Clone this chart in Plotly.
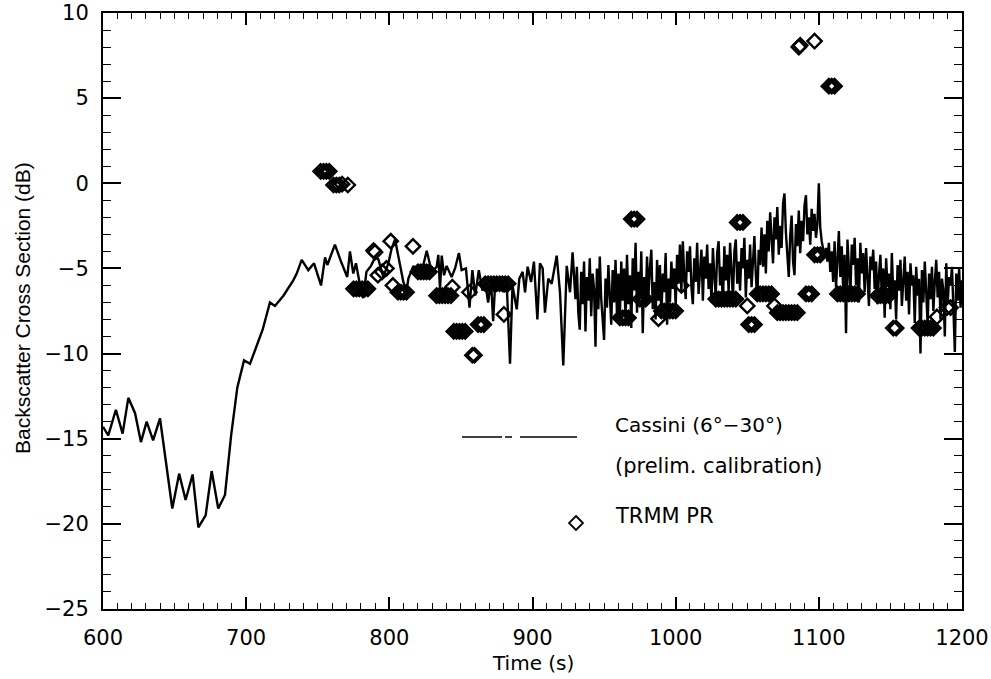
import numpy as np
import plotly.graph_objects as go

# ---------------- Cassini backscatter (sparse early part) ----------------
cassini_t_early = [600, 603.7, 609, 613.7, 617.7, 622.4, 626.5, 630.5, 635, 639.8,
                   648.4, 653.2, 657.7, 662.6, 666.6, 671.7, 675.9, 680.5, 685.2, 689.5,
                   693.8, 698.5, 702.7, 707.3, 711.5, 716.6, 720.1, 726, 732.9, 735.3,
                   738.8, 743.4, 747.4, 752.3, 755.1, 756.7, 762, 766.7, 770.6, 772.5,
                   774.8, 776.7, 779.1, 781.8, 784, 787.2, 790, 792.3, 795.8, 799.3,
                   801.7, 804, 806.3, 809.8, 812.1, 813.3, 816.8, 821.5, 826.1, 829.6,
                   833.1, 834.2, 835.4, 836.6, 838.2, 840, 843.5, 845.9, 848.6, 850.5,
                   853.5, 856, 858, 860, 862.5, 865, 867, 869, 871, 872.5,
                   874, 876, 878, 880, 882, 884.3, 886, 889, 890.8, 893.1,
                   894.8, 896.6, 899, 901, 903.4, 905.2, 907.1, 908.7, 911, 913.4,
                   916.9, 919.2, 921.5, 923.9, 926.2, 928]
cassini_v_early = [-14.3, -14.8, -13.3, -14.7, -12.6, -13.5, -15.2, -14.0, -15.1, -13.8,
                   -19.1, -17.05, -18.6, -17.1, -20.2, -19.5, -16.9, -19.1, -18.3, -14.8,
                   -12.0, -10.4, -10.6, -9.6, -8.6, -7.0, -7.2, -6.6, -5.7, -5.3,
                   -4.5, -5.1, -4.7, -6.0, -4.35, -4.8, -3.6, -4.7, -5.5, -4.0,
                   -5.3, -4.7, -5.8, -6.75, -5.2, -4.85, -4.35, -4.45, -5.5, -4.7,
                   -3.8, -3.3, -4.25, -5.8, -6.3, -5.6, -4.85, -5.6, -3.96, -5.2,
                   -4.9, -4.2, -6.2, -4.25, -5.4, -4.85, -5.5, -5.0, -4.1, -5.1,
                   -5.0, -7.3, -5.1, -6.6, -5.1, -6.3, -5.8, -7.0, -5.7, -8.1,
                   -5.8, -6.2, -5.6, -6.4, -5.9, -10.6, -6.0, -7.4, -5.6, -5.2,
                   -6.4, -4.9, -5.8, -4.6, -8.0, -4.7, -5.0, -7.6, -5.6, -5.9,
                   -4.25, -6.4, -10.7, -4.85, -6.4, -4.05]

# ---------------- Cassini backscatter (dense part, 1 s sampling from 930 s) ----------------
cassini_dense_start = 930
cassini_dense_step = 1.0
cassini_v_930_959 = [-6.8, -4.9, -7.6, -8.6, -5.2, -7.1, -4.6, -8.7, -5.5, -6.9,
                     -4.4, -7.8, -5.3, -6.2, -9.6, -5.0, -7.4, -4.3, -6.8, -8.1,
                     -9.2, -5.6, -7.3, -4.8, -6.5, -8.3, -5.1, -7.0, -4.5, -7.7]
cassini_v_960_999 = [-5.3, -8.0, -4.6, -6.9, -5.0, -8.2, -4.2, -7.1, -5.4, -8.5,
                     -4.4, -6.3, -3.5, -7.6, -5.2, -6.8, -4.0, -8.8, -5.5, -7.2,
                     -4.3, -6.6, -5.0, -3.9, -7.4, -5.8, -8.0, -4.5, -6.9, -4.8,
                     -7.9, -5.3, -6.4, -4.1, -8.3, -5.6, -7.0, -4.6, -6.2, -5.0]
cassini_v_1000_1059 = [-7.2, -4.2, -5.9, -3.6, -6.4, -3.4, -5.5, -6.8, -4.0, -5.2,
                       -3.7, -6.1, -7.1, -4.4, -5.8, -3.5, -6.5, -4.8, -3.9, -6.9,
                       -4.3, -5.6, -3.6, -6.2, -4.7, -7.0, -3.8, -5.4, -6.6, -4.1,
                       -3.4, -6.0, -4.9, -7.2, -3.7, -5.7, -4.2, -6.4, -3.5, -5.1,
                       -6.8, -4.0, -3.3, -5.9, -4.6, -6.3, -3.8, -5.0, -3.2, -6.7,
                       -4.5, -5.6, -3.6, -6.1, -4.3, -3.1, -5.4, -6.9, -3.9, -4.8]
cassini_v_1060_1102 = [-2.6, -4.9, -3.0, -5.3, -2.2, -4.0, -1.7, -3.6, -4.7, -2.0,
                       -3.3, -1.4, -4.2, -2.5, -3.8, -1.2, -0.6, -2.9, -4.4, -5.5,
                       -3.1, -1.9, -4.6, -5.4, -2.4, -3.7, -1.6, -4.1, -2.2, -3.4,
                       -1.3, -0.7, -3.0, -2.0, -3.6, -1.5, -2.8, -1.8, -3.2, -2.4,
                       0.0, -2.6, -3.4]
cassini_v_1103_1139 = [-3.9, -4.3, -3.8, -4.6, -3.5, -5.2, -4.0, -5.8, -3.4, -6.1,
                       -4.5, -2.8, -5.5, -3.7, -6.3, -4.2, -8.8, -3.3, -5.0, -6.6,
                       -3.6, -4.8, -3.2, -6.0, -4.4, -7.0, -3.5, -5.3, -4.1, -6.4,
                       -3.8, -5.7, -7.2, -4.3, -5.1, -3.9, -6.2]
cassini_v_1140_1200 = [-4.6, -7.1, -5.4, -4.2, -6.8, -5.0, -7.9, -4.4, -6.1, -5.3,
                       -7.4, -4.1, -6.5, -5.7, -8.0, -4.8, -6.3, -4.5, -7.2, -5.9,
                       -4.3, -6.9, -5.2, -7.7, -4.7, -6.0, -5.4, -8.2, -4.9, -6.6,
                       -5.6, -10.0, -5.1, -7.0, -4.6, -6.4, -8.3, -5.3, -6.8, -4.9,
                       -7.5, -5.8, -4.5, -6.7, -5.2, -8.0, -5.6, -6.3, -9.0, -4.7,
                       -7.1, -5.5, -6.0, -4.9, -7.6, -9.9, -5.3, -6.9, -5.0, -7.3, -5.7]

# ---------------- TRMM PR ----------------
trmm_t = [752, 754, 756, 758,
          761, 763, 765, 767, 771,
          775, 777, 779, 781, 783, 785,
          789, 790, 801, 816.5,
          792, 795, 798, 802.5,
          806, 808, 810, 812,
          820, 822, 824, 826, 828,
          833, 835, 837, 839, 841, 843, 844, 856,
          845, 847, 849, 851, 853,
          858, 859.5, 862, 864, 866,
          867, 869, 871, 873, 875, 877, 879, 881, 883,
          880,
          969, 971, 973,
          961, 963, 965, 967,
          975, 977, 979, 988,
          990, 992, 994, 996, 998, 1000, 1004,
          1043, 1045, 1047,
          1028, 1030, 1032, 1034, 1036, 1038, 1040, 1042,
          1050, 1051, 1053, 1055,
          1057, 1059, 1061, 1063, 1065, 1067, 1069,
          1071, 1073, 1075, 1077, 1079, 1081, 1083, 1085,
          1091, 1093, 1095,
          1097, 1099, 1101,
          1113, 1115, 1117, 1119, 1121, 1123, 1125, 1127,
          1141, 1143, 1145, 1147, 1149,
          1152, 1154,
          1170, 1172, 1174, 1176, 1178, 1180, 1182.5, 1189.5, 1192,
          1086, 1087, 1097, 1107, 1109, 1111]
trmm_v = [0.7, 0.7, 0.7, 0.7,
          -0.1, -0.1, -0.1, -0.05, -0.1,
          -6.2, -6.2, -6.2, -6.2, -6.2, -6.2,
          -3.95, -4.05, -3.4, -3.7,
          -5.4, -5.2, -5.0, -6.0,
          -6.4, -6.4, -6.4, -6.4,
          -5.2, -5.2, -5.2, -5.2, -5.2,
          -6.6, -6.6, -6.6, -6.6, -6.6, -6.6, -6.1, -6.4,
          -8.7, -8.7, -8.7, -8.7, -8.7,
          -10.1, -10.1, -8.3, -8.3, -8.3,
          -5.9, -5.9, -5.9, -5.9, -5.9, -5.9, -5.9, -5.9, -5.9,
          -7.7,
          -2.1, -2.1, -2.1,
          -7.9, -7.9, -7.9, -7.9,
          -6.8, -6.8, -6.8, -7.95,
          -7.5, -7.5, -7.5, -7.5, -7.5, -7.5, -6.0,
          -2.3, -2.3, -2.3,
          -6.8, -6.8, -6.8, -6.8, -6.8, -6.8, -6.8, -6.8,
          -7.2, -8.3, -8.3, -8.3,
          -6.5, -6.5, -6.5, -6.5, -6.5, -6.5, -7.2,
          -7.6, -7.6, -7.6, -7.6, -7.6, -7.6, -7.6, -7.6,
          -6.5, -6.5, -6.5,
          -4.2, -4.2, -4.2,
          -6.5, -6.5, -6.5, -6.5, -6.5, -6.5, -6.5, -6.5,
          -6.6, -6.6, -6.6, -6.6, -6.6,
          -8.5, -8.5,
          -8.5, -8.5, -8.5, -8.5, -8.5, -8.5, -7.85, -7.3, -7.3,
          8.0, 8.1, 8.35, 5.7, 5.7, 5.7]

# axis ticks
x_range = [600, 1200]
y_range = [-25, 10]
x_dtick, x_minor = 100, 10
y_dtick, y_minor = 5, 1

legend_line_label = "Cassini (6°−30°)"
legend_line_label2 = "(prelim. calibration)"
legend_marker_label = "TRMM PR"

# ---------------- build ----------------
dense_v = (cassini_v_930_959 + cassini_v_960_999 + cassini_v_1000_1059 +
           cassini_v_1060_1102 + cassini_v_1103_1139 + cassini_v_1140_1200)
dense_t = list(cassini_dense_start + cassini_dense_step * np.arange(len(dense_v)))
cass_t = cassini_t_early + dense_t
cass_v = cassini_v_early + dense_v

FONT = "DejaVu Sans"
TFONT = "Liberation Sans"
fig = go.Figure()
fig.add_trace(go.Scatter(x=cass_t, y=cass_v, mode="lines",
                         line=dict(color="black", width=2.4), showlegend=False))
fig.add_trace(go.Scatter(x=trmm_t, y=trmm_v, mode="markers",
                         marker=dict(symbol="diamond-open", size=11, color="black",
                                     line=dict(width=2.4, color="black")),
                         showlegend=False))

axis_common = dict(showline=True, linewidth=2, linecolor="black", mirror="allticks",
                   ticks="inside", tickcolor="black", tickwidth=1.5,
                   showgrid=False, zeroline=False, ticklabeloverflow="allow",
                   automargin=False,
                   tickfont=dict(family=FONT, size=21, color="black"))
fig.update_xaxes(range=x_range, tick0=600, dtick=x_dtick, ticklen=12,
                 minor=dict(dtick=x_minor, ticklen=6, ticks="inside", tickcolor="black", tickwidth=1),
                 ticklabelstandoff=9, **axis_common)
fig.update_yaxes(range=y_range, tick0=-25, dtick=y_dtick, ticklen=18,
                 minor=dict(dtick=y_minor, ticklen=8, ticks="inside", tickcolor="black", tickwidth=1),
                 ticklabelstandoff=8, **axis_common)

L, R, T, B = 103, 29, 13, 70
W, H = 991, 679
pw, ph = W - L - R, H - T - B

def px(xp):
    return (xp - L) / pw

def py(yp):
    return (H - B - yp) / ph

shapes = []
# legend line sample (with the small gap seen in the original)
for x0, x1 in [(462, 502), (505, 512), (520, 577)]:
    shapes.append(dict(type="line", xref="paper", yref="paper",
                       x0=px(x0), x1=px(x1), y0=py(437), y1=py(437),
                       line=dict(color="black", width=1.5)))
# legend diamond
cx, cy, hw = 576, 523, 7
path = "M {} {} L {} {} L {} {} L {} {} Z".format(
    px(cx), py(cy - hw), px(cx + hw), py(cy), px(cx), py(cy + hw), px(cx - hw), py(cy))
shapes.append(dict(type="path", xref="paper", yref="paper", path=path,
                   line=dict(color="black", width=1.8)))

annotations = [
    dict(text=legend_line_label, xref="paper", yref="paper", x=px(613), y=py(425),
         xanchor="left", yanchor="middle", showarrow=False,
         font=dict(family=FONT, size=20, color="black")),
    dict(text=legend_line_label2, xref="paper", yref="paper", x=px(613), y=py(466),
         xanchor="left", yanchor="middle", showarrow=False,
         font=dict(family=FONT, size=21, color="black")),
    dict(text=legend_marker_label, xref="paper", yref="paper", x=px(613), y=py(516),
         xanchor="left", yanchor="middle", showarrow=False,
         font=dict(family=FONT, size=21, color="black")),
    dict(text="Time (s)", xref="paper", yref="paper", x=0.5, y=py(663),
         xanchor="center", yanchor="middle", showarrow=False,
         font=dict(family=FONT, size=20, color="black")),
    dict(text="Backscatter Cross Section (dB)", xref="paper", yref="paper",
         x=px(22), y=py(308), textangle=-90, xanchor="center", yanchor="middle",
         showarrow=False, font=dict(family=TFONT, size=21, color="black")),
]

fig.update_layout(width=W, height=H, margin=dict(l=L, r=R, t=T, b=B),
                  plot_bgcolor="white", paper_bgcolor="white", showlegend=False,
                  font=dict(family=FONT, color="black"),
                  shapes=shapes, annotations=annotations)

fig.write_html("out.html", config={"displayModeBar": False},
               post_script="document.body.style.margin='0px';document.body.style.padding='0px';")
